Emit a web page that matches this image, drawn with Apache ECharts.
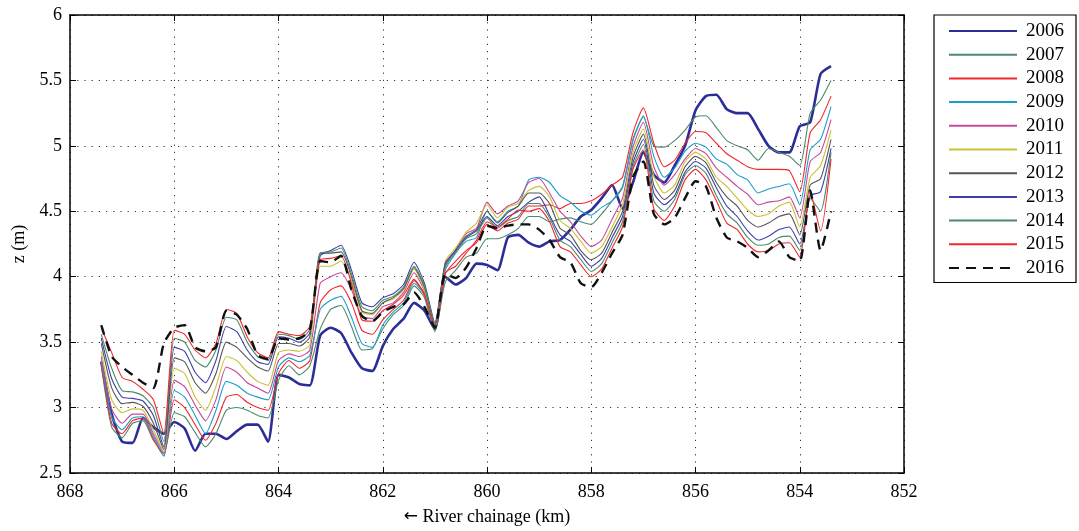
<!DOCTYPE html>
<html><head><meta charset="utf-8">
<script src="https://cdn.jsdelivr.net/npm/echarts@6.0.0/dist/echarts.min.js"></script>
<style>html,body{margin:0;padding:0;background:#fff}#c{width:1079px;height:531px}</style>
</head><body><div id="c"></div>
<script>
// River chainage (km), shared by every series
const chainage = [867.4,867.2,867.0,866.8,866.6,866.4,866.2,866.0,865.8,865.6,
865.4,865.2,865.0,864.8,864.6,864.4,864.2,864.0,863.8,863.6,
863.4,863.2,863.0,862.8,862.6,862.4,862.2,862.0,861.8,861.6,
861.4,861.2,861.0,860.8,860.6,860.4,860.2,860.0,859.8,859.6,
859.4,859.2,859.0,858.8,858.6,858.4,858.2,858.0,857.8,857.6,
857.4,857.2,857.0,856.8,856.6,856.4,856.2,856.0,855.8,855.6,
855.4,855.2,855.0,854.8,854.6,854.4,854.2,854.0,853.8,853.6,
853.4];

const years = ['2006','2007','2008','2009','2010','2011','2012','2013','2014','2015','2016'];

const z2006 = [3.35,2.95,2.74,2.73,2.92,2.85,2.8,2.89,2.84,2.67,
2.8,2.8,2.76,2.82,2.87,2.87,2.74,3.25,3.23,3.18,
3.17,3.55,3.61,3.57,3.42,3.3,3.28,3.47,3.6,3.68,
3.8,3.74,3.6,4.0,3.94,3.99,4.1,4.09,4.05,4.3,
4.32,4.26,4.23,4.27,4.28,4.36,4.46,4.51,4.6,4.7,
4.52,4.72,4.95,4.78,4.72,4.85,5.0,5.27,5.38,5.39,
5.28,5.25,5.25,5.13,5.0,4.95,4.95,5.15,5.18,5.55,
5.61];
const z2007 = [3.32,2.85,2.77,2.88,2.9,2.75,2.65,2.96,2.93,2.81,
2.7,2.8,2.98,3.0,2.98,2.94,2.92,3.21,3.32,3.25,
3.32,3.6,3.75,3.78,3.62,3.44,3.45,3.6,3.71,3.78,
3.93,3.84,3.58,3.96,4.05,4.15,4.18,4.29,4.29,4.32,
4.37,4.46,4.46,4.42,4.44,4.45,4.42,4.4,4.48,4.58,
4.69,5.05,5.22,5.0,4.99,5.04,5.12,5.22,5.23,5.14,
5.04,5.0,4.97,4.89,4.98,4.95,4.92,4.85,5.25,5.35,
5.5];
const z2008 = [3.34,2.88,2.8,2.9,2.92,2.76,2.63,3.06,3.0,2.87,
2.75,2.88,3.08,3.1,3.04,3.0,2.98,3.26,3.36,3.3,
3.36,3.8,3.9,3.93,3.8,3.59,3.56,3.67,3.75,3.82,
3.97,3.87,3.6,4.02,4.12,4.2,4.26,4.4,4.35,4.41,
4.44,4.54,4.54,4.55,4.52,4.56,4.56,4.58,4.63,4.7,
4.76,5.1,5.29,5.02,4.84,4.89,5.02,5.11,5.1,5.02,
4.94,4.89,4.84,4.82,4.82,4.82,4.81,4.65,5.1,5.2,
5.38];
const z2009 = [3.36,2.93,2.83,2.92,2.93,2.78,2.63,3.13,3.08,2.94,
2.8,2.98,3.2,3.17,3.11,3.08,3.06,3.31,3.38,3.35,
3.4,3.75,3.82,3.85,3.69,3.49,3.46,3.63,3.73,3.8,
3.95,3.86,3.6,4.05,4.18,4.27,4.3,4.5,4.42,4.5,
4.54,4.74,4.76,4.72,4.62,4.57,4.5,4.47,4.53,4.58,
4.68,5.04,5.23,4.92,4.76,4.83,4.96,5.02,4.99,4.9,
4.86,4.78,4.74,4.64,4.67,4.69,4.71,4.55,4.97,5.05,
5.3];
const z2010 = [3.39,2.99,2.88,2.95,2.95,2.8,2.65,3.21,3.16,3.02,
2.9,3.06,3.31,3.27,3.19,3.15,3.11,3.36,3.41,3.39,
3.44,3.95,4.0,4.03,3.9,3.7,3.68,3.77,3.8,3.88,
4.03,3.89,3.62,4.07,4.21,4.33,4.37,4.57,4.48,4.54,
4.58,4.72,4.75,4.64,4.5,4.42,4.31,4.23,4.28,4.44,
4.6,4.99,5.18,4.84,4.7,4.78,4.9,4.98,4.94,4.83,
4.76,4.69,4.63,4.55,4.57,4.58,4.61,4.45,4.88,4.95,
5.2];
const z2011 = [3.43,3.06,2.96,2.99,2.98,2.83,2.66,3.3,3.26,3.08,
2.98,3.16,3.39,3.36,3.27,3.2,3.17,3.42,3.44,3.43,
3.48,4.08,4.08,4.12,3.97,3.73,3.71,3.8,3.83,3.9,
4.06,3.9,3.62,4.12,4.22,4.34,4.41,4.55,4.45,4.53,
4.56,4.66,4.69,4.61,4.43,4.37,4.27,4.18,4.23,4.38,
4.55,4.95,5.13,4.77,4.64,4.7,4.88,4.95,4.9,4.76,
4.69,4.6,4.51,4.46,4.48,4.54,4.57,4.38,4.76,4.85,
5.12];
const z2012 = [3.49,3.15,3.03,3.04,3.01,2.88,2.68,3.38,3.35,3.19,
3.11,3.26,3.5,3.46,3.38,3.31,3.28,3.49,3.49,3.47,
3.54,4.18,4.18,4.19,4.0,3.74,3.72,3.8,3.84,3.91,
4.07,3.92,3.63,4.1,4.2,4.31,4.36,4.5,4.41,4.49,
4.54,4.64,4.64,4.56,4.37,4.32,4.2,4.13,4.18,4.34,
4.5,4.91,5.09,4.7,4.59,4.66,4.84,4.92,4.87,4.72,
4.61,4.54,4.43,4.38,4.41,4.46,4.48,4.32,4.7,4.75,
5.05];
const z2013 = [3.53,3.22,3.08,3.07,3.05,2.94,2.7,3.46,3.43,3.27,
3.19,3.36,3.62,3.58,3.44,3.35,3.33,3.54,3.53,3.5,
3.57,4.16,4.2,4.24,4.05,3.8,3.77,3.84,3.87,3.94,
4.11,3.95,3.65,4.1,4.2,4.3,4.35,4.46,4.39,4.46,
4.5,4.57,4.61,4.47,4.32,4.27,4.17,4.08,4.14,4.3,
4.46,4.87,5.05,4.64,4.55,4.62,4.8,4.88,4.83,4.68,
4.54,4.46,4.35,4.28,4.31,4.36,4.38,4.25,4.62,4.65,
4.98];
const z2014 = [3.56,3.3,3.13,3.12,3.09,3.0,2.74,3.53,3.5,3.36,
3.31,3.44,3.69,3.67,3.5,3.39,3.36,3.56,3.55,3.52,
3.6,4.18,4.19,4.22,4.02,3.77,3.74,3.82,3.85,3.92,
4.08,3.93,3.64,4.08,4.19,4.29,4.33,4.45,4.37,4.43,
4.46,4.56,4.56,4.45,4.28,4.23,4.13,4.04,4.1,4.26,
4.42,4.84,5.01,4.58,4.5,4.59,4.78,4.85,4.79,4.62,
4.48,4.41,4.3,4.24,4.25,4.3,4.31,4.2,4.6,4.5,
4.95];
const z2015 = [3.61,3.42,3.23,3.2,3.14,3.06,2.8,3.59,3.56,3.44,
3.38,3.49,3.75,3.72,3.54,3.42,3.38,3.58,3.56,3.55,
3.62,4.13,4.14,4.16,3.95,3.67,3.66,3.74,3.79,3.86,
3.98,3.86,3.62,4.03,4.08,4.18,4.28,4.42,4.38,4.44,
4.51,4.5,4.52,4.42,4.23,4.19,4.09,4.0,4.06,4.22,
4.38,4.82,4.97,4.52,4.43,4.54,4.74,4.82,4.74,4.58,
4.41,4.36,4.25,4.19,4.2,4.25,4.26,4.15,4.65,4.35,
4.9];
const z2016 = [3.63,3.39,3.31,3.25,3.19,3.15,3.49,3.61,3.63,3.46,
3.43,3.46,3.74,3.71,3.6,3.4,3.37,3.53,3.52,3.53,
3.59,4.12,4.11,4.16,3.9,3.7,3.66,3.73,3.77,3.79,
3.88,3.77,3.61,4.02,3.99,4.07,4.22,4.39,4.37,4.39,
4.4,4.4,4.36,4.28,4.15,4.11,3.95,3.92,4.03,4.18,
4.32,4.76,4.88,4.48,4.4,4.45,4.6,4.73,4.69,4.45,
4.3,4.27,4.22,4.15,4.2,4.27,4.15,4.12,4.66,4.2,
4.5];

const yTicks = ['2.5','3','3.5','4','4.5','5','5.5','6'];
const xTicks = ['852','854','856','858','860','862','864','866','868'];

const seriesValues = [z2006,z2007,z2008,z2009,z2010,z2011,z2012,z2013,z2014,z2015,z2016];
const colors = ['#2b2e96','#4d8a6b','#f0282d','#1a9fc9','#c8489e','#c9c234','#565656','#3d3fa8','#4d8a6b','#f0282d','#111111'];

const FONT = '"Liberation Serif","DejaVu Serif",serif';
const chart = echarts.init(document.getElementById('c'), null, {renderer:'canvas'});

const series = years.map((y, k) => {
  let ls = {color: colors[k], width: 1.1};
  if (y === '2006') ls = {color: colors[k], width: 2.6};
  if (y === '2016') ls = {color: colors[k], width: 2.4, type: [10, 7]};
  return {
    name: y, type: 'line', xAxisIndex: 0, yAxisIndex: 0,
    symbol: 'none', showSymbol: false, smooth: 0.2,
    lineStyle: ls, itemStyle: {color: colors[k]},
    emphasis: {disabled: true},
    data: chainage.map((x, i) => [x, seriesValues[k][i]])
  };
});

const axisLineStyle = {show: true, onZero: false, lineStyle: {color: '#000', width: 1.5}};
const tickStyle = {show: true, inside: true, length: 6, lineStyle: {color: '#000', width: 1}};
const gridLine = {show: true, lineStyle: {color: '#333', width: 1, type: [1.2, 6]}};

chart.setOption({
  animation: false,
  backgroundColor: '#fff',
  grid: {left: 70, right: 175, top: 15, bottom: 58, containLabel: false, outerBoundsMode: 'none'},
  legend: {
    orient: 'vertical', left: 934, top: 15,
    padding: [6.5, 12, 5, 14],
    itemWidth: 68, itemHeight: 14, itemGap: 4.7,
    itemStyle: {opacity: 0, borderWidth: 0},
    borderColor: '#000', borderWidth: 1.2, backgroundColor: '#fff',
    textStyle: {fontFamily: FONT, fontSize: 19, color: '#000', padding: [0, 0, 0, 4]},
    data: years
  },
  xAxis: [
    {type: 'value', inverse: true, min: 852, max: 868, interval: 2, position: 'bottom',
     axisLine: axisLineStyle, axisTick: tickStyle, splitLine: gridLine,
     axisLabel: {color: '#000', fontFamily: FONT, fontSize: 18, margin: 10,
       formatter: v => xTicks[Math.round((v - 852) / 2)]},
     name: '{a|\u2190} River chainage (km)', nameLocation: 'middle', nameGap: 35,
     nameTextStyle: {color: '#000', fontFamily: FONT, fontSize: 18,
       rich: {a: {fontFamily: '"DejaVu Sans"', fontSize: 17, color: '#000'}}}},
    {type: 'value', inverse: true, min: 852, max: 868, interval: 2, position: 'top',
     axisLine: axisLineStyle, axisTick: tickStyle, splitLine: {show: false},
     axisLabel: {show: false}}
  ],
  yAxis: [
    {type: 'value', min: 2.5, max: 6, interval: 0.5, position: 'left',
     axisLine: axisLineStyle, axisTick: tickStyle, splitLine: gridLine,
     axisLabel: {color: '#000', fontFamily: FONT, fontSize: 18, margin: 8,
       formatter: v => yTicks[Math.round((v - 2.5) / 0.5)]},
     name: 'z (m)', nameLocation: 'middle', nameGap: 41, nameRotate: 90,
     nameTextStyle: {color: '#000', fontFamily: FONT, fontSize: 18}},
    {type: 'value', min: 2.5, max: 6, interval: 0.5, position: 'right',
     axisLine: axisLineStyle, axisTick: tickStyle, splitLine: {show: false},
     axisLabel: {show: false}}
  ],
  series: series
});
</script></body></html>
